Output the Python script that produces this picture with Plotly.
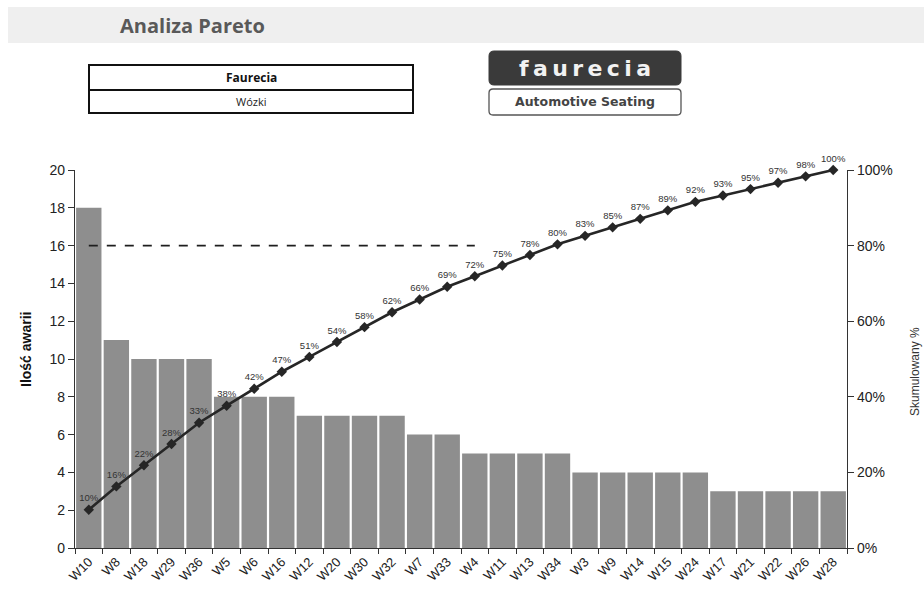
import plotly.graph_objects as go

# Failure counts per trolley, sorted descending (Pareto order)
categories = ["W10", "W8", "W18", "W29", "W36", "W5", "W6", "W16", "W12", "W20",
              "W30", "W32", "W7", "W33", "W4", "W11", "W13", "W34", "W3", "W9",
              "W14", "W15", "W24", "W17", "W21", "W22", "W26", "W28"]
failures = [18, 11, 10, 10, 10, 8, 8, 8, 7, 7,
            7, 7, 6, 6, 5, 5, 5, 5, 4, 4,
            4, 4, 4, 3, 3, 3, 3, 3]
threshold = 0.80          # 80% Pareto reference line
threshold_end = "W4"      # last category covered by the reference line

total = sum(failures)
cumulative = []
running = 0
for v in failures:
    running += v
    cumulative.append(running / total)
cum_labels = [f"{round(c * 100 + 1e-9):.0f}%" for c in cumulative]

FONT = "Arial, Liberation Sans, sans-serif"
HEAD_FONT = "Open Sans, Noto Sans, sans-serif"

# plot-area geometry in pixels, used to place decorations in paper coords
L, R, T, B = 75, 847, 170, 548
W, H = 924, 589


def px(x):
    return (x - L) / (R - L)


def py(y):
    return (B - y) / (B - T)


fig = go.Figure()

fig.add_trace(go.Bar(
    x=categories, y=failures,
    marker=dict(color="#8e8e8e", line=dict(width=0)),
    yaxis="y", showlegend=False, hoverinfo="x+y",
))

end_idx = categories.index(threshold_end)
fig.add_trace(go.Scatter(
    x=categories[:end_idx + 1], y=[threshold] * (end_idx + 1),
    mode="lines", line=dict(color="#1e1e1e", width=1.6, dash="dash"),
    yaxis="y2", showlegend=False, hoverinfo="skip",
))

fig.add_trace(go.Scatter(
    x=categories, y=cumulative,
    mode="lines+markers+text",
    line=dict(color="#262626", width=2.6),
    marker=dict(symbol="diamond", size=8, color="#262626"),
    text=cum_labels, textposition="top center",
    textfont=dict(family=FONT, size=9.5, color="#333333"),
    cliponaxis=False, yaxis="y2", showlegend=False,
))

shapes = [
    # header band
    dict(type="rect", xref="paper", yref="paper",
         x0=px(8), x1=px(W + 5), y0=py(43), y1=py(7),
         fillcolor="#efefef", line=dict(width=0), layer="below"),
    # company box
    dict(type="rect", xref="paper", yref="paper",
         x0=px(89), x1=px(413), y0=py(113), y1=py(65),
         fillcolor="white", line=dict(color="#111111", width=2)),
    dict(type="line", xref="paper", yref="paper",
         x0=px(89), x1=px(413), y0=py(90), y1=py(90),
         line=dict(color="#111111", width=2)),
]


def rounded_rect(x0, y0, x1, y1, r):
    # pixel rectangle with rounded corners, returned as an SVG path in paper coords
    pts = []
    pts.append(f"M {px(x0 + r)},{py(y0)}")
    pts.append(f"L {px(x1 - r)},{py(y0)}")
    pts.append(f"Q {px(x1)},{py(y0)} {px(x1)},{py(y0 + r)}")
    pts.append(f"L {px(x1)},{py(y1 - r)}")
    pts.append(f"Q {px(x1)},{py(y1)} {px(x1 - r)},{py(y1)}")
    pts.append(f"L {px(x0 + r)},{py(y1)}")
    pts.append(f"Q {px(x0)},{py(y1)} {px(x0)},{py(y1 - r)}")
    pts.append(f"L {px(x0)},{py(y0 + r)}")
    pts.append(f"Q {px(x0)},{py(y0)} {px(x0 + r)},{py(y0)} Z")
    return " ".join(pts)


shapes.append(dict(type="path", xref="paper", yref="paper",
                   path=rounded_rect(489, 51, 681, 85, 5),
                   fillcolor="#3a3a3a", line=dict(color="#3a3a3a", width=1)))
shapes.append(dict(type="path", xref="paper", yref="paper",
                   path=rounded_rect(489, 89, 681, 115, 4),
                   fillcolor="white", line=dict(color="#555555", width=1.3)))

annotations = [
    dict(text="<b>Analiza Pareto</b>", xref="paper", yref="paper",
         x=px(118), y=py(25), xanchor="left", yanchor="middle", showarrow=False,
         font=dict(family=HEAD_FONT, size=20, color="#595959")),
    dict(text="<b>Faurecia</b>", xref="paper", yref="paper",
         x=px(251), y=py(78), xanchor="center", yanchor="middle", showarrow=False,
         font=dict(family=HEAD_FONT, size=12, color="#111111")),
    dict(text="Wózki", xref="paper", yref="paper",
         x=px(251), y=py(102), xanchor="center", yanchor="middle", showarrow=False,
         font=dict(family=HEAD_FONT, size=11, color="#222222")),
    dict(text="<b>f\u2009a\u2009u\u2009r\u2009e\u2009c\u2009i\u2009a</b>", xref="paper", yref="paper",
         x=px(585), y=py(68), xanchor="center", yanchor="middle", showarrow=False,
         font=dict(family="DejaVu Sans, sans-serif", size=22, color="#f2f2f2")),
    dict(text="<b>Automotive Seating</b>", xref="paper", yref="paper",
         x=px(585), y=py(102), xanchor="center", yanchor="middle", showarrow=False,
         font=dict(family="DejaVu Sans, sans-serif", size=12.5, color="#444444")),
    dict(text="<b>Ilość awarii</b>", xref="paper", yref="paper",
         x=px(26), y=py(350), xanchor="center", yanchor="middle", showarrow=False,
         textangle=-90, font=dict(family=FONT, size=14, color="#111111")),
    dict(text="Skumulowany %", xref="paper", yref="paper",
         x=px(915), y=py(372), xanchor="center", yanchor="middle", showarrow=False,
         textangle=-90, font=dict(family=FONT, size=12, color="#333333")),
]

fig.update_layout(
    width=W, height=H,
    margin=dict(l=L, r=W - R, t=T, b=H - B, autoexpand=False),
    paper_bgcolor="white", plot_bgcolor="white",
    bargap=0.08,
    font=dict(family=FONT, color="#222222"),
    xaxis=dict(type="category", range=[-0.5, len(categories) - 0.5],
               tickangle=-45, tickson="boundaries",
               ticks="outside", ticklen=5, tickcolor="#333333",
               showline=True, linecolor="#333333", linewidth=1.2,
               tickfont=dict(family=FONT, size=13, color="#222222"),
               showgrid=False, zeroline=False),
    yaxis=dict(range=[0, 20], dtick=2, ticks="outside", ticklen=6,
               tickcolor="#333333", showline=True, linecolor="#333333",
               linewidth=1.2, showgrid=False, zeroline=False,
               tickfont=dict(family=FONT, size=14, color="#222222")),
    yaxis2=dict(range=[0, 1], dtick=0.2, tickformat=".0%", overlaying="y",
                side="right", ticks="outside", ticklen=6, tickcolor="#333333",
                showline=True, linecolor="#333333", linewidth=1.2,
                showgrid=False, zeroline=False,
                tickfont=dict(family=FONT, size=14, color="#222222")),
    shapes=shapes,
    annotations=annotations,
)

fig.write_html("out.html")
